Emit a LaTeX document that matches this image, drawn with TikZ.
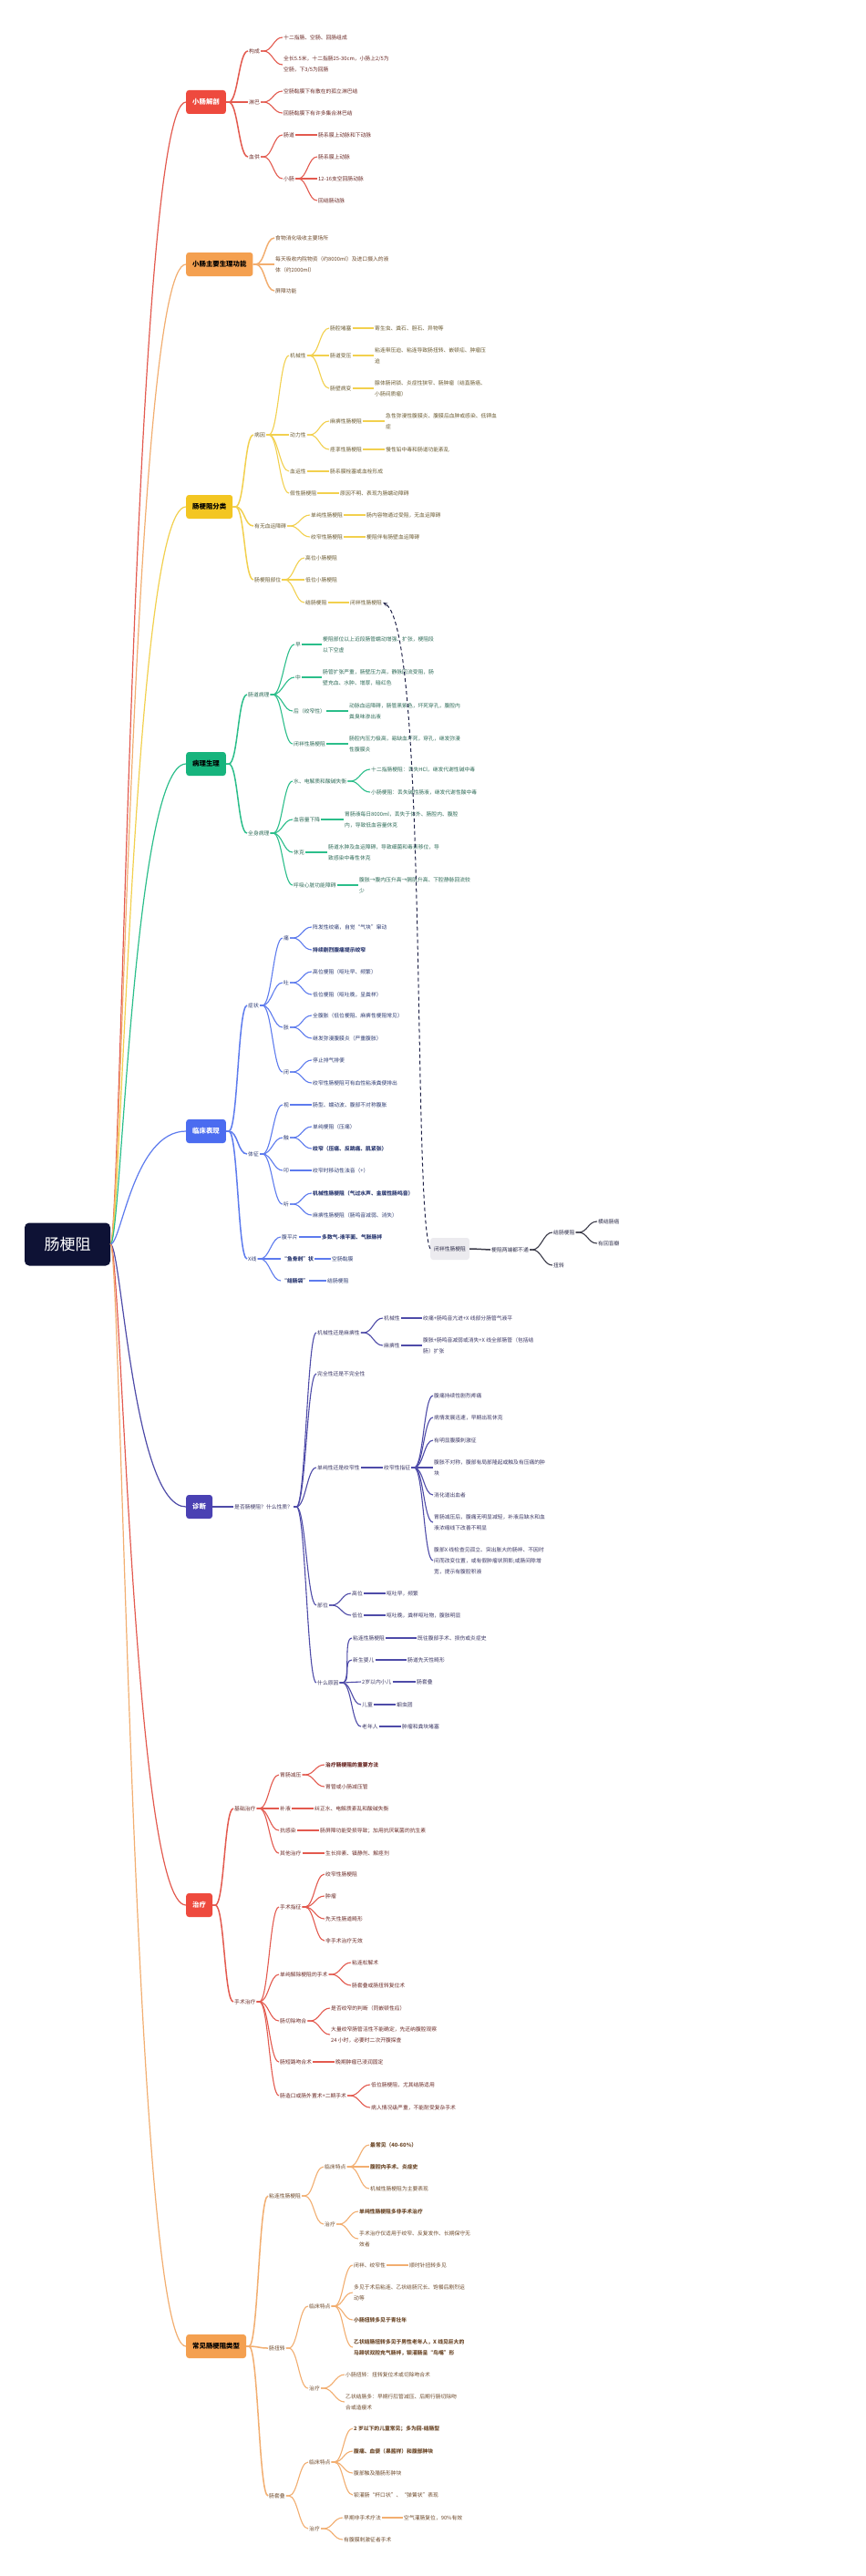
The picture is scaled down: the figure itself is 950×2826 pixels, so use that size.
\documentclass[tikz,border=0pt]{standalone}
\usepackage{fontspec}
\setmainfont{Noto Sans CJK SC}
\usetikzlibrary{arrows.meta,calc}
\definecolor{cRoot}{HTML}{0E1235}
\definecolor{cRed}{HTML}{EE4A3E}
\definecolor{cRedL}{HTML}{E35A4F}
\definecolor{cRedT}{HTML}{6B2A26}
\definecolor{cOr}{HTML}{F4A050}
\definecolor{cOrL}{HTML}{F2AE70}
\definecolor{cOrT}{HTML}{6E4A2B}
\definecolor{cYe}{HTML}{F3C622}
\definecolor{cYeL}{HTML}{F2D04E}
\definecolor{cYeT}{HTML}{6A5A30}
\definecolor{cGr}{HTML}{17B47D}
\definecolor{cGrL}{HTML}{2BBE8A}
\definecolor{cGrT}{HTML}{2D6B57}
\definecolor{cBl}{HTML}{4B6CF0}
\definecolor{cBlL}{HTML}{5D7BEE}
\definecolor{cBlT}{HTML}{2C3A72}
\definecolor{cPu}{HTML}{4A41B3}
\definecolor{cPuL}{HTML}{4E4BA8}
\definecolor{cPuT}{HTML}{3A3664}
\definecolor{cGy}{HTML}{ECEBEF}
\definecolor{cGyL}{HTML}{3A3A48}
\definecolor{cGyT}{HTML}{2E2E4A}
\definecolor{cDash}{HTML}{1E2147}
\tikzset{
 tx/.style={anchor=west, inner sep=1pt, font=\fontsize{5.8}{12}\selectfont, align=left},
 bd/.style={font=\fontsize{5.8}{12}\selectfont\bfseries},
 bx/.style={anchor=west, rounded corners=3pt, inner xsep=7pt, inner ysep=2pt, minimum height=26pt, font=\fontsize{7.4}{9}\selectfont\bfseries},
 txR/.style={tx,text=cRedT}, txO/.style={tx,text=cOrT}, txY/.style={tx,text=cYeT},
 txG/.style={tx,text=cGrT}, txB/.style={tx,text=cBlT}, txP/.style={tx,text=cPuT},
 txK/.style={tx,text=cGyT},
 lnR/.style={draw=cRedL, line width=1.1pt}, lnO/.style={draw=cOrL, line width=1.1pt},
 lnY/.style={draw=cYeL, line width=1.1pt}, lnG/.style={draw=cGrL, line width=1.1pt},
 lnB/.style={draw=cBlL, line width=1.1pt}, lnP/.style={draw=cPuL, line width=1.1pt},
 lnK/.style={draw=cGyL, line width=1.1pt},
 w1/.style={line width=1.5pt}, w0/.style={line width=1.2pt},
}
\newcommand{\conn}[4][10]{\draw[#2] (#3.east) -- ++(3,0) .. controls +(#1,0) and ($(#4.west)+(-#1,0)$) .. (#4.west);}
\newcommand{\rconn}[2]{\draw[#1] (R.east) .. controls +(12,0) and ($(#2.west)+(-58,0)$) .. (#2.west);}
\begin{document}
\begin{tikzpicture}[x=1pt,y=-1pt]
\fill[white] (0,0) rectangle (950,2826);
\useasboundingbox (0,0) rectangle (950,2826);

% root
\node[fill=cRoot, text=white, rounded corners=5pt, minimum width=94pt, minimum height=47pt, font=\fontsize{17}{20}\selectfont] (R) at (74,1365) {肠梗阻};

% level 1
\node[bx, fill=cRed, text=white] (A) at (204,112) {小肠解剖};
\node[bx, fill=cOr, text=black] (B) at (204,290) {小肠主要生理功能};
\node[bx, fill=cYe, text=black] (C) at (204,556) {肠梗阻分类};
\node[bx, fill=cGr, text=black] (D) at (204,838) {病理生理};
\node[bx, fill=cBl, text=white] (E) at (204,1241) {临床表现};
\node[bx, fill=cPu, text=white] (G) at (204,1653) {诊断};
\node[bx, fill=cRed, text=white] (H) at (204,2090) {治疗};
\node[bx, fill=cOr, text=black] (I) at (204,2574) {常见肠梗阻类型};

\rconn{lnR,w0}{A}
\rconn{lnO,w0}{B}
\rconn{lnY,w0}{C}
\rconn{lnG,w0}{D}
\rconn{lnB,w0}{E}
\rconn{lnP,w0}{G}
\rconn{lnR,w0}{H}
\rconn{lnO,w0}{I}

% ===== A 小肠解剖
\node[txR] (A1) at (272,56) {构成};
\node[txR] (A11) at (310,41) {十二指肠、空肠、回肠组成};
\node[txR] (A12) at (310,71) {全长5.5米，十二指肠25-30cm，小肠上2/5为\\空肠，下3/5为回肠};
\node[txR] (A2) at (272,112) {淋巴};
\node[txR] (A21) at (310,100) {空肠黏膜下有散在的孤立淋巴结};
\node[txR] (A22) at (310,124) {回肠黏膜下有许多集合淋巴结};
\node[txR] (A3) at (272,172) {血供};
\node[txR] (A31) at (310,148) {肠道};
\node[txR] (A311) at (348,148) {肠系膜上动脉和下动脉};
\node[txR] (A32) at (310,196) {小肠};
\node[txR] (A321) at (348,172) {肠系膜上动脉};
\node[txR] (A322) at (348,196) {12-16支空回肠动脉};
\node[txR] (A323) at (348,220) {回结肠动脉};
\conn{lnR,w1}{A}{A1}\conn{lnR,w1}{A}{A2}\conn{lnR,w1}{A}{A3}
\conn{lnR}{A1}{A11}\conn{lnR}{A1}{A12}
\conn{lnR}{A2}{A21}\conn{lnR}{A2}{A22}
\conn{lnR}{A3}{A31}\conn{lnR}{A3}{A32}
\conn{lnR}{A31}{A311}
\conn{lnR}{A32}{A321}\conn{lnR}{A32}{A322}\conn{lnR}{A32}{A323}

% ===== B
\node[txO] (B1) at (301,261) {食物消化吸收主要场所};
\node[txO] (B2) at (301,290) {每天吸收内院物资（约8000ml）及进口摄入的液\\体（约2000ml）};
\node[txO] (B3) at (301,319) {屏障功能};
\conn{lnO,w1}{B}{B1}\conn{lnO,w1}{B}{B2}\conn{lnO,w1}{B}{B3}

% ===== C 肠梗阻分类
\node[txY] (C1) at (278,477) {病因};
\node[txY] (C11) at (317,390) {机械性};
\node[txY] (C111) at (361,360) {肠腔堵塞};
\node[txY] (C1111) at (410,360) {寄生虫、粪石、胆石、异物等};
\node[txY] (C112) at (361,390) {肠道受压};
\node[txY] (C1121) at (410,390) {粘连带压迫、粘连导致肠扭转、嵌顿疝、肿瘤压\\迫};
\node[txY] (C113) at (361,426) {肠壁病变};
\node[txY] (C1131) at (410,426) {腺体肠闭锁、炎症性狭窄、肠肿瘤（结直肠癌、\\小肠间质瘤）};
\node[txY] (C12) at (317,477) {动力性};
\node[txY] (C121) at (361,462) {麻痹性肠梗阻};
\node[txY] (C1211) at (422,462) {急性弥漫性腹膜炎、腹膜后血肿或感染、低钾血\\症};
\node[txY] (C122) at (361,493) {痉挛性肠梗阻};
\node[txY] (C1221) at (422,493) {慢性铅中毒和肠道功能紊乱};
\node[txY] (C13) at (317,517) {血运性};
\node[txY] (C131) at (361,517) {肠系膜栓塞或血栓形成};
\node[txY] (C14) at (317,541) {假性肠梗阻};
\node[txY] (C141) at (372,541) {原因不明、表现为肠蠕动障碍};
\node[txY] (C2) at (278,577) {有无血运障碍};
\node[txY] (C21) at (340,565) {单纯性肠梗阻};
\node[txY] (C211) at (401,565) {肠内容物通过受阻，无血运障碍};
\node[txY] (C22) at (340,589) {绞窄性肠梗阻};
\node[txY] (C221) at (401,589) {梗阻伴有肠壁血运障碍};
\node[txY] (C3) at (278,636) {肠梗阻部位};
\node[txY] (C31) at (334,612) {高位小肠梗阻};
\node[txY] (C32) at (334,636) {低位小肠梗阻};
\node[txY] (C33) at (334,661) {结肠梗阻};
\node[txY] (C331) at (383,661) {闭袢性肠梗阻};
\conn{lnY,w1}{C}{C1}\conn{lnY,w1}{C}{C2}\conn{lnY,w1}{C}{C3}
\conn{lnY}{C1}{C11}\conn{lnY}{C1}{C12}\conn{lnY}{C1}{C13}\conn{lnY}{C1}{C14}
\conn{lnY}{C11}{C111}\conn{lnY}{C11}{C112}\conn{lnY}{C11}{C113}
\conn{lnY}{C111}{C1111}\conn{lnY}{C112}{C1121}\conn{lnY}{C113}{C1131}
\conn{lnY}{C12}{C121}\conn{lnY}{C12}{C122}
\conn{lnY}{C121}{C1211}\conn{lnY}{C122}{C1221}
\conn{lnY}{C13}{C131}\conn{lnY}{C14}{C141}
\conn{lnY}{C2}{C21}\conn{lnY}{C2}{C22}
\conn{lnY}{C21}{C211}\conn{lnY}{C22}{C221}
\conn{lnY}{C3}{C31}\conn{lnY}{C3}{C32}\conn{lnY}{C3}{C33}
\conn{lnY}{C33}{C331}

% ===== D 病理生理
\node[txG] (D1) at (271,762) {肠道病理};
\node[txG] (D11) at (323,707) {早};
\node[txG] (D111) at (353,707) {梗阻部位以上近段肠管蠕动增强、扩张，梗阻段\\以下空虚};
\node[txG] (D12) at (323,743) {中};
\node[txG] (D121) at (353,743) {肠管扩张严重，肠壁压力高，静脉回流受阻，肠\\壁充血、水肿、增厚，暗红色};
\node[txG] (D13) at (321,780) {后（绞窄性）};
\node[txG] (D131) at (382,780) {动脉血运障碍，肠管黑紫色，坏死穿孔，腹腔内\\粪臭味渗出液};
\node[txG] (D14) at (321,816) {闭袢性肠梗阻};
\node[txG] (D141) at (382,816) {肠腔内压力极高，易缺血坏死，穿孔，继发弥漫\\性腹膜炎};
\node[txG] (D2) at (271,914) {全身病理};
\node[txG] (D21) at (321,857) {水、电解质和酸碱失衡};
\node[txG] (D211) at (406,844) {十二指肠梗阻：丢失HCl，继发代谢性碱中毒};
\node[txG] (D212) at (406,869) {小肠梗阻：丢失碱性肠液，继发代谢性酸中毒};
\node[txG] (D22) at (321,899) {血容量下降};
\node[txG] (D221) at (377,899) {胃肠液每日8000ml，丢失于体外、肠腔内、腹腔\\内，导致低血容量休克};
\node[txG] (D23) at (321,935) {休克};
\node[txG] (D231) at (359,935) {肠道水肿及血运障碍，导致细菌和毒素移位，导\\致感染中毒性休克};
\node[txG] (D24) at (321,971) {呼吸心脏功能障碍};
\node[txG] (D241) at (393,971) {腹胀→腹内压升高→膈肌升高、下腔静脉回流较\\少};
\conn{lnG,w1}{D}{D1}\conn{lnG,w1}{D}{D2}
\conn{lnG}{D1}{D11}\conn{lnG}{D1}{D12}\conn{lnG}{D1}{D13}\conn{lnG}{D1}{D14}
\conn{lnG}{D11}{D111}\conn{lnG}{D12}{D121}\conn{lnG}{D13}{D131}\conn{lnG}{D14}{D141}
\conn{lnG}{D2}{D21}\conn{lnG}{D2}{D22}\conn{lnG}{D2}{D23}\conn{lnG}{D2}{D24}
\conn{lnG}{D21}{D211}\conn{lnG}{D21}{D212}
\conn{lnG}{D22}{D221}\conn{lnG}{D23}{D231}\conn{lnG}{D24}{D241}

% ===== E 临床表现
\node[txB] (E1) at (271,1103) {症状};
\node[txB] (E11) at (310,1029) {痛};
\node[txB] (E111) at (342,1017) {阵发性绞痛，自觉“气块”窜动};
\node[txB,bd] (E112) at (342,1042) {持续剧烈腹痛提示绞窄};
\node[txB] (E12) at (310,1078) {吐};
\node[txB] (E121) at (342,1066) {高位梗阻（呕吐早、频繁）};
\node[txB] (E122) at (342,1091) {低位梗阻（呕吐晚，呈粪样）};
\node[txB] (E13) at (310,1127) {胀};
\node[txB] (E131) at (342,1114) {全腹胀（低位梗阻、麻痹性梗阻常见）};
\node[txB] (E132) at (342,1139) {继发弥漫腹膜炎（严重腹胀）};
\node[txB] (E14) at (310,1176) {闭};
\node[txB] (E141) at (342,1163) {停止排气排便};
\node[txB] (E142) at (342,1188) {绞窄性肠梗阻可有血性粘液粪便排出};
\node[txB] (E2) at (271,1266) {体征};
\node[txB] (E21) at (310,1212) {视};
\node[txB] (E211) at (342,1212) {肠型、蠕动波、腹部不对称腹胀};
\node[txB] (E22) at (310,1248) {触};
\node[txB] (E221) at (342,1236) {单纯梗阻（压痛）};
\node[txB,bd] (E222) at (342,1260) {绞窄（压痛、反跳痛、肌紧张）};
\node[txB] (E23) at (310,1284) {叩};
\node[txB] (E231) at (342,1284) {绞窄时移动性浊音（+）};
\node[txB] (E24) at (310,1321) {听};
\node[txB,bd] (E241) at (342,1309) {机械性肠梗阻（气过水声、金属性肠鸣音）};
\node[txB] (E242) at (342,1333) {麻痹性肠梗阻（肠鸣音减弱、消失）};
\node[txB] (E3) at (271,1381) {X线};
\node[txB] (E31) at (308,1357) {腹平片};
\node[txB,bd] (E311) at (352,1357) {多数气-液平面、气胀肠袢};
\node[txB,bd] (E32) at (308,1381) {“鱼骨刺”状};
\node[txB] (E321) at (363,1381) {空肠黏膜};
\node[txB,bd] (E33) at (308,1405) {“结肠袋”};
\node[txB] (E331) at (358,1405) {结肠梗阻};
\conn{lnB,w1}{E}{E1}\conn{lnB,w1}{E}{E2}\conn{lnB,w1}{E}{E3}
\conn{lnB}{E1}{E11}\conn{lnB}{E1}{E12}\conn{lnB}{E1}{E13}\conn{lnB}{E1}{E14}
\conn{lnB}{E11}{E111}\conn{lnB}{E11}{E112}
\conn{lnB}{E12}{E121}\conn{lnB}{E12}{E122}
\conn{lnB}{E13}{E131}\conn{lnB}{E13}{E132}
\conn{lnB}{E14}{E141}\conn{lnB}{E14}{E142}
\conn{lnB}{E2}{E21}\conn{lnB}{E2}{E22}\conn{lnB}{E2}{E23}\conn{lnB}{E2}{E24}
\conn{lnB}{E21}{E211}\conn{lnB}{E22}{E221}\conn{lnB}{E22}{E222}
\conn{lnB}{E23}{E231}\conn{lnB}{E24}{E241}\conn{lnB}{E24}{E242}
\conn{lnB}{E3}{E31}\conn{lnB}{E3}{E32}\conn{lnB}{E3}{E33}
\conn{lnB}{E31}{E311}\conn{lnB}{E32}{E321}\conn{lnB}{E33}{E331}

% ===== F floating
\node[anchor=west, fill=cGy, text=cGyT, rounded corners=3pt, inner xsep=4pt, minimum height=24pt, font=\fontsize{5.8}{12}\selectfont] (F) at (472,1370) {闭袢性肠梗阻};
\node[txK] (F1) at (538,1371) {梗阻两端都不通};
\node[txK] (F11) at (606,1352) {结肠梗阻};
\node[txK] (F111) at (655,1340) {横结肠癌};
\node[txK] (F112) at (655,1364) {有回盲瓣};
\node[txK] (F12) at (606,1388) {扭转};
\conn{lnK,w1}{F}{F1}
\conn{lnK}{F1}{F11}\conn{lnK}{F1}{F12}
\conn{lnK}{F11}{F111}\conn{lnK}{F11}{F112}
\draw[cDash, dash pattern=on 4pt off 3pt, line width=1pt, -{Stealth[length=5pt,width=4pt]}] (F.west) .. controls (452,1330) and (470,690) .. (C331.east);

% ===== G 诊断
\node[txP] (G1) at (256,1653) {是否肠梗阻？什么性质？};
\node[txP] (G11) at (347,1462) {机械性还是麻痹性};
\node[txP] (G111) at (420,1446) {机械性};
\node[txP] (G1111) at (463,1446) {绞痛+肠鸣音亢进+X 线部分肠管气液平};
\node[txP] (G112) at (420,1476) {麻痹性};
\node[txP] (G1121) at (463,1476) {腹胀+肠鸣音减弱或消失+X 线全部肠管（包括结\\肠）扩张};
\node[txP] (G12) at (347,1507) {完全性还是不完全性};
\node[txP] (G13) at (347,1610) {单纯性还是绞窄性};
\node[txP] (G131) at (420,1610) {绞窄性指征};
\node[txP] (G1311) at (475,1531) {腹痛持续性剧烈疼痛};
\node[txP] (G1312) at (475,1555) {病情发展迅速，早期出现休克};
\node[txP] (G1313) at (475,1580) {有明显腹膜刺激征};
\node[txP] (G1314) at (475,1610) {腹胀不对称，腹部有局部隆起或触及有压痛的肿\\块};
\node[txP] (G1315) at (475,1640) {消化道出血者};
\node[txP] (G1316) at (475,1670) {胃肠减压后，腹痛无明显减轻，补液后缺水和血\\液浓缩线下改善不明显};
\node[txP] (G1317) at (475,1712) {腹部X 线检查见孤立、突出胀大的肠袢、不因时\\间而改变位置，或有假肿瘤状阴影;或肠间隙增\\宽，提示有腹腔积液};
\node[txP] (G14) at (347,1761) {部位};
\node[txP] (G141) at (385,1748) {高位};
\node[txP] (G1411) at (423,1748) {呕吐早，频繁};
\node[txP] (G142) at (385,1772) {低位};
\node[txP] (G1421) at (423,1772) {呕吐晚，粪样呕吐物，腹胀明显};
\node[txP] (G15) at (347,1846) {什么原因};
\node[txP] (G151) at (386,1797) {粘连性肠梗阻};
\node[txP] (G1511) at (457,1797) {既往腹部手术、损伤或炎症史};
\node[txP] (G152) at (386,1821) {新生婴儿};
\node[txP] (G1521) at (446,1821) {肠道先天性畸形};
\node[txP] (G153) at (396,1845) {2岁以内小儿};
\node[txP] (G1531) at (456,1845) {肠套叠};
\node[txP] (G154) at (396,1870) {儿童};
\node[txP] (G1541) at (434,1870) {蛔虫团};
\node[txP] (G155) at (396,1894) {老年人};
\node[txP] (G1551) at (440,1894) {肿瘤和粪块堵塞};
\conn{lnP,w1}{G}{G1}
\conn{lnP}{G1}{G11}\conn{lnP}{G1}{G12}\conn{lnP}{G1}{G13}\conn{lnP}{G1}{G14}\conn{lnP}{G1}{G15}
\conn{lnP}{G11}{G111}\conn{lnP}{G11}{G112}
\conn{lnP}{G111}{G1111}\conn{lnP}{G112}{G1121}
\conn{lnP}{G13}{G131}
\conn{lnP}{G131}{G1311}\conn{lnP}{G131}{G1312}\conn{lnP}{G131}{G1313}\conn{lnP}{G131}{G1314}
\conn{lnP}{G131}{G1315}\conn{lnP}{G131}{G1316}\conn{lnP}{G131}{G1317}
\conn{lnP}{G14}{G141}\conn{lnP}{G14}{G142}
\conn{lnP}{G141}{G1411}\conn{lnP}{G142}{G1421}
\conn{lnP}{G15}{G151}\conn{lnP}{G15}{G152}\conn{lnP}{G15}{G153}\conn{lnP}{G15}{G154}\conn{lnP}{G15}{G155}
\conn{lnP}{G151}{G1511}\conn{lnP}{G152}{G1521}\conn{lnP}{G153}{G1531}\conn{lnP}{G154}{G1541}\conn{lnP}{G155}{G1551}

% ===== H 治疗
\node[txR] (H1) at (256,1984) {基础治疗};
\node[txR] (H11) at (306,1947) {胃肠减压};
\node[txR,bd] (H111) at (356,1936) {治疗肠梗阻的重要方法};
\node[txR] (H112) at (356,1960) {胃管或小肠减压管};
\node[txR] (H12) at (306,1984) {补液};
\node[txR] (H121) at (344,1984) {纠正水、电解质紊乱和酸碱失衡};
\node[txR] (H13) at (306,2008) {抗感染};
\node[txR] (H131) at (350,2008) {肠屏障功能受损导致；加用抗厌氧菌的抗生素};
\node[txR] (H14) at (306,2033) {其他治疗};
\node[txR] (H141) at (356,2033) {生长抑素、镇静剂、解痉剂};
\node[txR] (H2) at (256,2196) {手术治疗};
\node[txR] (H21) at (306,2092) {手术指征};
\node[txR] (H211) at (356,2056) {绞窄性肠梗阻};
\node[txR] (H212) at (356,2080) {肿瘤};
\node[txR] (H213) at (356,2105) {先天性肠道畸形};
\node[txR] (H214) at (356,2129) {非手术治疗无效};
\node[txR] (H22) at (306,2166) {单纯解除梗阻的手术};
\node[txR] (H221) at (385,2153) {粘连松解术};
\node[txR] (H222) at (385,2178) {肠套叠或肠扭转复位术};
\node[txR] (H23) at (306,2217) {肠切除吻合};
\node[txR] (H231) at (362,2203) {是否绞窄的判断（同嵌顿性疝）};
\node[txR] (H232) at (362,2232) {大量绞窄肠管活性不能确定，先还纳腹腔观察\\24 小时，必要时二次开腹探查};
\node[txR] (H24) at (306,2262) {肠短路吻合术};
\node[txR] (H241) at (367,2262) {晚期肿瘤已浸润固定};
\node[txR] (H25) at (306,2299) {肠造口或肠外置术+二期手术};
\node[txR] (H251) at (406,2287) {低位肠梗阻，尤其结肠适用};
\node[txR] (H252) at (406,2312) {病人情况级严重，不能耐受复杂手术};
\conn{lnR,w1}{H}{H1}\conn{lnR,w1}{H}{H2}
\conn{lnR}{H1}{H11}\conn{lnR}{H1}{H12}\conn{lnR}{H1}{H13}\conn{lnR}{H1}{H14}
\conn{lnR}{H11}{H111}\conn{lnR}{H11}{H112}
\conn{lnR}{H12}{H121}\conn{lnR}{H13}{H131}\conn{lnR}{H14}{H141}
\conn{lnR}{H2}{H21}\conn{lnR}{H2}{H22}\conn{lnR}{H2}{H23}\conn{lnR}{H2}{H24}\conn{lnR}{H2}{H25}
\conn{lnR}{H21}{H211}\conn{lnR}{H21}{H212}\conn{lnR}{H21}{H213}\conn{lnR}{H21}{H214}
\conn{lnR}{H22}{H221}\conn{lnR}{H22}{H222}
\conn{lnR}{H23}{H231}\conn{lnR}{H23}{H232}
\conn{lnR}{H24}{H241}
\conn{lnR}{H25}{H251}\conn{lnR}{H25}{H252}

% ===== I 常见肠梗阻类型
\node[txO] (I1) at (294,2409) {粘连性肠梗阻};
\node[txO] (I11) at (355,2377) {临床特点};
\node[txO,bd] (I111) at (405,2353) {最常见（40-60\%）};
\node[txO,bd] (I112) at (405,2377) {腹腔内手术、炎症史};
\node[txO] (I113) at (405,2401) {机械性肠梗阻为主要表现};
\node[txO] (I12) at (355,2440) {治疗};
\node[txO,bd] (I121) at (393,2426) {单纯性肠梗阻多非手术治疗};
\node[txO] (I122) at (393,2456) {手术治疗仅适用于绞窄、反复发作、长期保守无\\效者};
\node[txO] (I2) at (294,2576) {肠扭转};
\node[txO] (I21) at (338,2530) {临床特点};
\node[txO] (I211) at (387,2485) {闭袢、绞窄性};
\node[txO] (I2111) at (448,2485) {顺时针扭转多见};
\node[txO] (I212) at (387,2515) {多见于术后粘连、乙状结肠冗长、饱餐后剧烈运\\动等};
\node[txO,bd] (I213) at (387,2545) {小肠扭转多见于青壮年};
\node[txO,bd] (I214) at (387,2575) {乙状结肠扭转多见于男性老年人，X 线见巨大的\\马蹄状双腔充气肠袢，钡灌肠呈“鸟嘴”形};
\node[txO] (I22) at (338,2620) {治疗};
\node[txO] (I221) at (378,2605) {小肠扭转：扭转复位术或切除吻合术};
\node[txO] (I222) at (378,2635) {乙状结肠多：早期行肛管减压、后期行肠切除吻\\合或造瘘术};
\node[txO] (I3) at (294,2738) {肠套叠};
\node[txO] (I31) at (338,2701) {临床特点};
\node[txO,bd] (I311) at (387,2664) {2 岁以下的儿童常见；多为回-结肠型};
\node[txO,bd] (I312) at (387,2689) {腹痛、血便（果酱样）和腹部肿块};
\node[txO] (I313) at (387,2713) {腹部触及腊肠形肿块};
\node[txO] (I314) at (387,2737) {钡灌肠“杯口状”、“弹簧状”表现};
\node[txO] (I32) at (338,2774) {治疗};
\node[txO] (I321) at (376,2762) {早期非手术疗法};
\node[txO] (I3211) at (442,2762) {空气灌肠复位，90\%有效};
\node[txO] (I322) at (376,2786) {有腹膜刺激征者手术};
\conn{lnO,w1}{I}{I1}\conn{lnO,w1}{I}{I2}\conn{lnO,w1}{I}{I3}
\conn{lnO}{I1}{I11}\conn{lnO}{I1}{I12}
\conn{lnO}{I11}{I111}\conn{lnO}{I11}{I112}\conn{lnO}{I11}{I113}
\conn{lnO}{I12}{I121}\conn{lnO}{I12}{I122}
\conn{lnO}{I2}{I21}\conn{lnO}{I2}{I22}
\conn{lnO}{I21}{I211}\conn{lnO}{I21}{I212}\conn{lnO}{I21}{I213}\conn{lnO}{I21}{I214}
\conn{lnO}{I211}{I2111}
\conn{lnO}{I22}{I221}\conn{lnO}{I22}{I222}
\conn{lnO}{I3}{I31}\conn{lnO}{I3}{I32}
\conn{lnO}{I31}{I311}\conn{lnO}{I31}{I312}\conn{lnO}{I31}{I313}\conn{lnO}{I31}{I314}
\conn{lnO}{I32}{I321}\conn{lnO}{I32}{I322}
\conn{lnO}{I321}{I3211}
\end{tikzpicture}
\end{document}
